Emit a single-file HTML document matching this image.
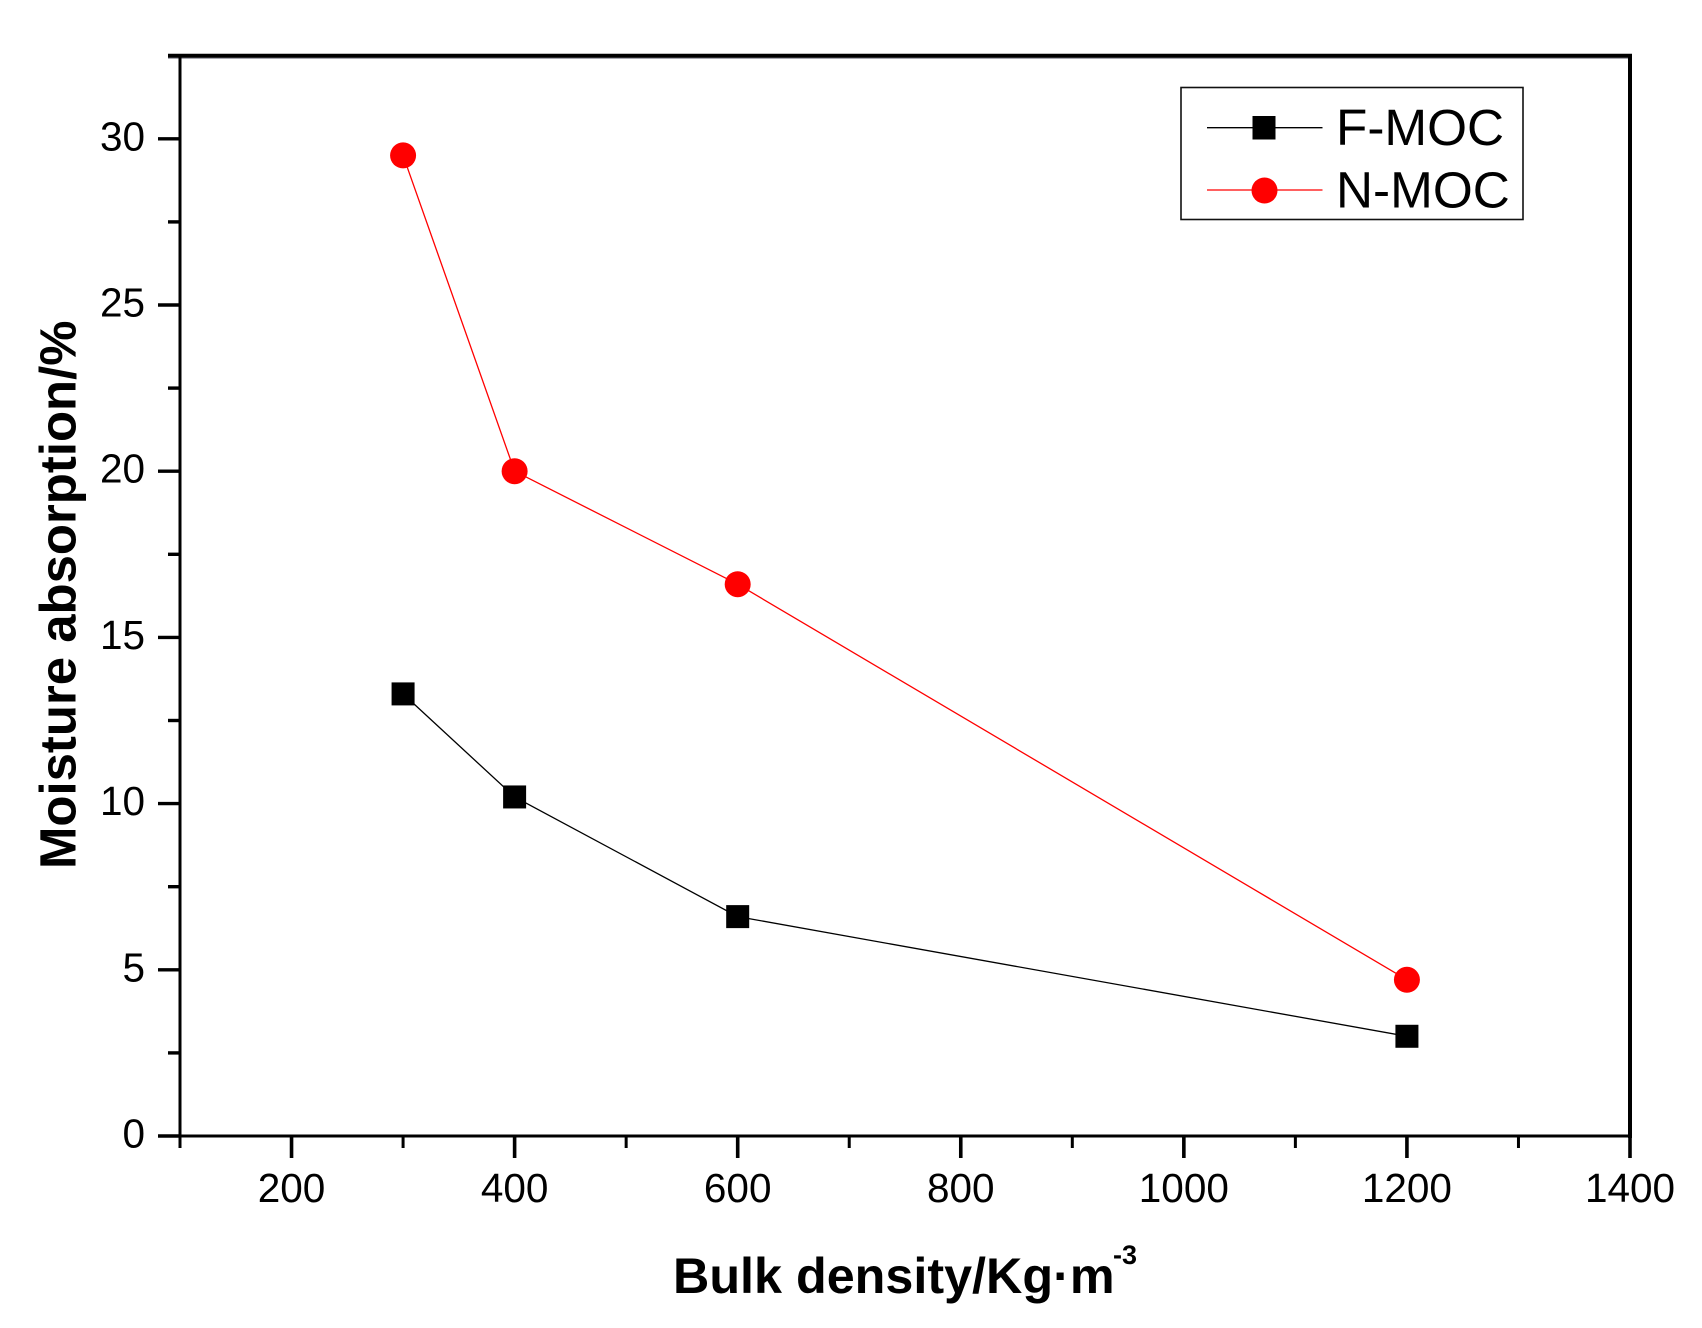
<!DOCTYPE html>
<html lang="en">
<head>
<meta charset="utf-8">
<title>Moisture absorption vs bulk density</title>
<style>
html,body{margin:0;padding:0;background:#fff;}
svg{display:block;}
text{font-family:"Liberation Sans",Arial,sans-serif;fill:#000;}
.tick-label{font-size:40.5px;}
.axis-title{font-size:50.3px;font-weight:bold;}
.legend-text{font-size:51.3px;}
</style>
</head>
<body>
<svg id="chart" xmlns="http://www.w3.org/2000/svg" width="1702" height="1328" viewBox="0 0 1702 1328">
  <rect x="0" y="0" width="1702" height="1328" fill="#ffffff"/>
  <g id="ticks"></g>
  <rect x="168" y="57" width="1463" height="2" fill="#a8a8b0"/>
  <line x1="168" y1="55.7" x2="1632" y2="55.7" stroke="#000" stroke-width="4"/>
  <line x1="1630" y1="54" x2="1630" y2="1138" stroke="#000" stroke-width="4"/>
  <line x1="180" y1="55" x2="180" y2="1148" stroke="#000" stroke-width="3"/>
  <line x1="158" y1="1136" x2="1631" y2="1136" stroke="#000" stroke-width="3"/>
  <g id="series"></g>
  <text class="axis-title" x="673" y="1293">Bulk density/Kg·m</text>
  <text x="1113" y="1264" style="font-size:27px;font-weight:bold">-3</text>
  <text class="axis-title" transform="translate(75.7 869) rotate(-90)" style="font-size:50.9px">Moisture absorption/%</text>
  <g>
    <rect x="1181" y="87.5" width="342" height="132" fill="none" stroke="#111" stroke-width="1.6"/>
    <g>
      <line x1="1207" y1="127.7" x2="1322.5" y2="127.7" stroke="#000" stroke-width="1.3"/>
      <rect x="1252.5" y="116" width="23" height="23.5" fill="#000"/>
      <text class="legend-text" x="1336" y="145">F-MOC</text>
    </g>
    <g>
      <line x1="1207" y1="190" x2="1322.5" y2="190" stroke="#ff0000" stroke-width="1.3"/>
      <circle cx="1264.5" cy="190.5" r="13" fill="#ff0000"/>
      <text class="legend-text" x="1336" y="207.7">N-MOC</text>
    </g>
  </g>
</svg>
<script>
var categories = [300, 400, 600, 1200];
var fMocValues = [13.3, 10.2, 6.6, 3.0];
var nMocValues = [29.5, 20.0, 16.6, 4.7];
var xMajorTicks = [200, 400, 600, 800, 1000, 1200, 1400];
var xMinorTicks = [100, 300, 500, 700, 900, 1100, 1300];
var yMajorTicks = [0, 5, 10, 15, 20, 25, 30];
var yMinorTicks = [2.5, 7.5, 12.5, 17.5, 22.5, 27.5, 32.5];

var NS = 'http://www.w3.org/2000/svg';
function xScale(v) { return 180 + (v - 100) * (1450 / 1300); }
function yScale(v) { return 1136 - v * 33.24; }
function make(tag, attrs, parent) {
  var el = document.createElementNS(NS, tag);
  for (var k in attrs) { el.setAttribute(k, attrs[k]); }
  parent.appendChild(el);
  return el;
}
var ticks = document.getElementById('ticks');
var seriesLayer = document.getElementById('series');

xMajorTicks.forEach(function (v) {
  var t = make('line', { x1: xScale(v), x2: xScale(v), y1: 1136, y2: 1158, stroke: '#000', 'stroke-width': 3.6 }, ticks);
  
  
  var l = make('text', { x: xScale(v), y: 1202, 'text-anchor': 'middle', 'class': 'tick-label' }, ticks);
  
  
  l.textContent = String(v);
});
xMinorTicks.forEach(function (v) {
  var t = make('line', { x1: xScale(v), x2: xScale(v), y1: 1136, y2: 1148, stroke: '#000', 'stroke-width': 3 }, ticks);
  
  
});
yMajorTicks.forEach(function (v) {
  var t = make('line', { x1: 158, x2: 180, y1: yScale(v), y2: yScale(v), stroke: '#000', 'stroke-width': 3.4 }, ticks);
  
  
  var l = make('text', { x: 145, y: yScale(v) + 11.5, 'text-anchor': 'end', 'class': 'tick-label' }, ticks);
  
  
  l.textContent = String(v);
});
yMinorTicks.forEach(function (v) {
  var t = make('line', { x1: 168, x2: 180, y1: yScale(v), y2: yScale(v), stroke: '#000', 'stroke-width': 3.4 }, ticks);
  
  
});

function polyPoints(values) {
  return values.map(function (v, i) { return xScale(categories[i]) + ',' + yScale(v); }).join(' ');
}

var fLine = make('polyline', { points: polyPoints(fMocValues), fill: 'none', stroke: '#000', 'stroke-width': 1.3 }, seriesLayer);


var nLine = make('polyline', { points: polyPoints(nMocValues), fill: 'none', stroke: '#ff0000', 'stroke-width': 1.3 }, seriesLayer);



fMocValues.forEach(function (v, i) {
  var s = make('rect', { x: xScale(categories[i]) - 11.5, y: yScale(v) - 11.5, width: 23, height: 23, fill: '#000' }, seriesLayer);
  
  
});
nMocValues.forEach(function (v, i) {
  var c = make('circle', { cx: xScale(categories[i]), cy: yScale(v), r: 13, fill: '#ff0000' }, seriesLayer);
  
  
});
</script>
</body>
</html>
